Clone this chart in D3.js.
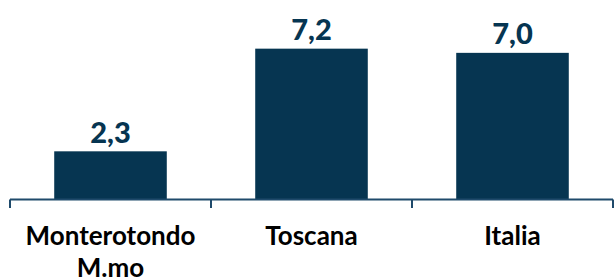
<!DOCTYPE html>
<html>
<head>
<meta charset="utf-8">
<script src="https://cdn.jsdelivr.net/npm/d3@7"></script>
<style>
  html, body { margin: 0; padding: 0; background: #ffffff; }
  svg { display: block; }
</style>
</head>
<body>
<svg id="chart" width="614" height="280"></svg>
<script>
const categories = [["Monterotondo", "M.mo"], ["Toscana"], ["Italia"]];
const values = [2.3, 7.2, 7.0];
const valueLabels = ["2,3", "7,2", "7,0"];

const svg = d3.select("#chart");
const barColor = "#063551";
const axisColor = "#1f4a6b";

const x = d3.scaleBand()
  .domain(d3.range(categories.length))
  .range([10, 613])
  .paddingInner(0.44)
  .paddingOuter(0.22);

const bandFull = d3.scaleBand()
  .domain(d3.range(categories.length))
  .range([10, 613]);

const y = d3.scaleLinear().domain([0, 8]).range([199.5, 199.5 - 8 * 20.95]);

// bars
svg.selectAll("rect.bar")
  .data(values)
  .enter().append("rect")
  .attr("class", "bar")
  .attr("x", (d, i) => x(i))
  .attr("width", x.bandwidth())
  .attr("y", d => y(d))
  .attr("height", d => y(0) - y(d))
  .attr("fill", barColor);

// axis line with ticks at band boundaries
const axisG = svg.append("g");
axisG.append("line")
  .attr("x1", bandFull.range()[0]).attr("x2", bandFull.range()[1])
  .attr("y1", y(0)).attr("y2", y(0))
  .attr("stroke", axisColor).attr("stroke-width", 2);
const boundaries = d3.range(categories.length + 1).map(i => bandFull.range()[0] + i * bandFull.step());
axisG.selectAll("line.tick")
  .data(boundaries)
  .enter().append("line")
  .attr("class", "tick")
  .attr("x1", d => d).attr("x2", d => d)
  .attr("y1", y(0)).attr("y2", y(0) + 8.5)
  .attr("stroke", axisColor).attr("stroke-width", 2);

// value labels
svg.selectAll("text.val")
  .data(values)
  .enter().append("text")
  .attr("class", "val")
  .attr("x", (d, i) => x(i) + x.bandwidth() / 2)
  .attr("y", d => y(d) - 8.5)
  .attr("text-anchor", "middle")
  .attr("font-family", "Lato, 'Open Sans', sans-serif")
  .attr("font-weight", 900)
  .attr("font-size", 29)
  .attr("fill", barColor)
  .text((d, i) => valueLabels[i]);

// category labels
const catG = svg.selectAll("text.cat")
  .data(categories)
  .enter().append("text")
  .attr("class", "cat")
  .attr("x", (d, i) => bandFull(i) + bandFull.bandwidth() / 2)
  .attr("y", 245)
  .attr("text-anchor", "middle")
  .attr("font-family", "Lato, 'Open Sans', sans-serif")
  .attr("font-weight", 700)
  .attr("font-size", 26)
  .attr("fill", "#000000");
catG.each(function(d, i) {
  const t = d3.select(this);
  d.forEach((line, j) => {
    t.append("tspan")
      .attr("x", bandFull(i) + bandFull.bandwidth() / 2)
      .attr("dy", j === 0 ? 0 : 32)
      .text(line);
  });
});
</script>
</body>
</html>
